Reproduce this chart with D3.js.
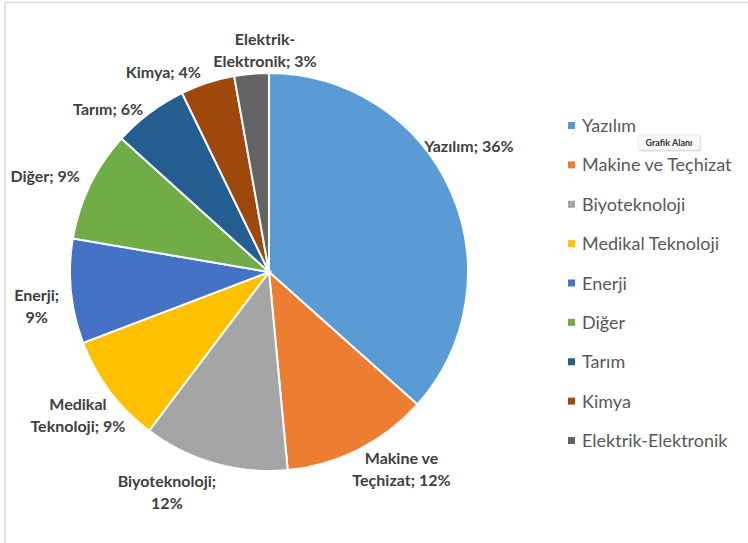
<!DOCTYPE html>
<meta charset="utf-8">
<style>
	body {
		margin: 0;
		background: #fff;
		font-family: Lato, "Open Sans", sans-serif;
	}

	.frame {
		fill: none;
		stroke: #d9d9d9;
		stroke-width: 1.5px;
	}

	.slice {
		stroke: #fff;
		stroke-width: 2px;
	}

	.label {
		font-weight: bold;
		font-size: 16px;
		fill: #404040;
	}

	.legend text {
		font-size: 18px;
		fill: #595959;
	}

	.tip text {
		font-size: 9px;
		font-weight: bold;
		fill: #333;
	}
</style>
<body>
	<svg id="chart"></svg>
</body>
<script src="https://cdnjs.cloudflare.com/ajax/libs/d3/7.8.5/d3.min.js"></script>
<script>
	// sektör dağılımı (etiketler yuvarlanmış yüzdeler)
	var categories = ["Yazılım", "Makine ve Teçhizat", "Biyoteknoloji", "Medikal Teknoloji", "Enerji", "Diğer", "Tarım", "Kimya", "Elektrik-Elektronik"];
	var values = [36.6, 11.9, 11.8, 8.9, 8.5, 9.0, 6.1, 4.4, 2.8];
	// etiket satırları (Excel gibi kırılmış)
	var labelLines = [
		["Yazılım; 36%"],
		["Makine ve", "Teçhizat; 12%"],
		["Biyoteknoloji;", "12%"],
		["Medikal", "Teknoloji; 9%"],
		["Enerji;", "9%"],
		["Diğer; 9%"],
		["Tarım; 6%"],
		["Kimya; 4%"],
		["Elektrik-", "Elektronik; 3%"]
	];
	var colorList = ["#5B9BD5", "#ED7D31", "#A5A5A5", "#FFC000", "#4472C4", "#70AD47", "#255E91", "#9E480E", "#636363"];

	var width = 748,
		height = 543;
	var cx = 269,
		cy = 272,
		R = 199;

	// small angle nudges (deg) and radius used for label placement, like excel's best fit
	var labelNudge = [-8, -7, 9, 0, -3, -3, -8, -10, 4];
	var labelRad = [236, 238, 243, 239, 235, 243, 228, 225, 221];

	var svg = d3.select("#chart")
		.attr("width", width)
		.attr("height", height);

	// grafik alanı çerçevesi
	svg.append("path")
		.attr("class", "frame")
		.attr("d", "M5," + height + "V2.5H" + width);

	var color = d3.scaleOrdinal()
		.domain(categories)
		.range(colorList);

	var pie = d3.pie()
		.sort(null)
		.value(function(d, i) { return values[i]; });

	var arcs = pie(categories);

	var arc = d3.arc()
		.innerRadius(0)
		.outerRadius(R);

	var g = svg.append("g")
		.attr("transform", "translate(" + cx + "," + cy + ")");

	g.selectAll("path.slice")
		.data(arcs)
		.enter()
		.append("path")
		.attr("class", "slice")
		.attr("fill", function(d) { return color(d.data); })
		.attr("d", arc);

	var lineH = 22;
	var labels = g.selectAll("text.label")
		.data(arcs)
		.enter()
		.append("text")
		.attr("class", "label")
		.attr("text-anchor", "middle")
		.attr("transform", function(d, i) {
			var a = (d.startAngle + d.endAngle) / 2 + labelNudge[i] * Math.PI / 180;
			var r = labelRad[i];
			var n = labelLines[i].length;
			var x = Math.sin(a) * r,
				y = -Math.cos(a) * r - (n - 1) * lineH / 2 + 5;
			return "translate(" + x + "," + y + ")";
		});

	labels.selectAll("tspan")
		.data(function(d, i) { return labelLines[i]; })
		.enter()
		.append("tspan")
		.attr("x", 0)
		.attr("dy", function(d, j) { return j === 0 ? 0 : lineH; })
		.text(function(d) { return d; });

	// legend
	var legendY = d3.scalePoint()
		.domain(categories)
		.range([126, 441]);

	var legend = svg.append("g")
		.attr("class", "legend")
		.selectAll("g")
		.data(categories)
		.enter()
		.append("g")
		.attr("transform", function(d) { return "translate(568," + legendY(d) + ")"; });

	legend.append("rect")
		.attr("x", 0)
		.attr("y", -4)
		.attr("width", 7)
		.attr("height", 7)
		.attr("fill", function(d) { return color(d); });

	legend.append("text")
		.attr("x", 14)
		.attr("y", 6)
		.text(function(d) { return d; });

	// tooltip "Grafik Alanı"
	var tip = svg.append("g")
		.attr("class", "tip")
		.attr("transform", "translate(638,135)");
	tip.append("rect")
		.attr("x", 1)
		.attr("y", 1.5)
		.attr("width", 62)
		.attr("height", 15)
		.attr("rx", 2)
		.attr("fill", "#000")
		.attr("opacity", 0.12);
	tip.append("rect")
		.attr("width", 62)
		.attr("height", 15)
		.attr("rx", 2)
		.attr("fill", "#fafafa")
		.attr("stroke", "#d0d0d0")
		.attr("stroke-width", 0.5);
	tip.append("text")
		.attr("x", 31)
		.attr("y", 10.5)
		.attr("text-anchor", "middle")
		.text("Grafik Alanı");
</script>
